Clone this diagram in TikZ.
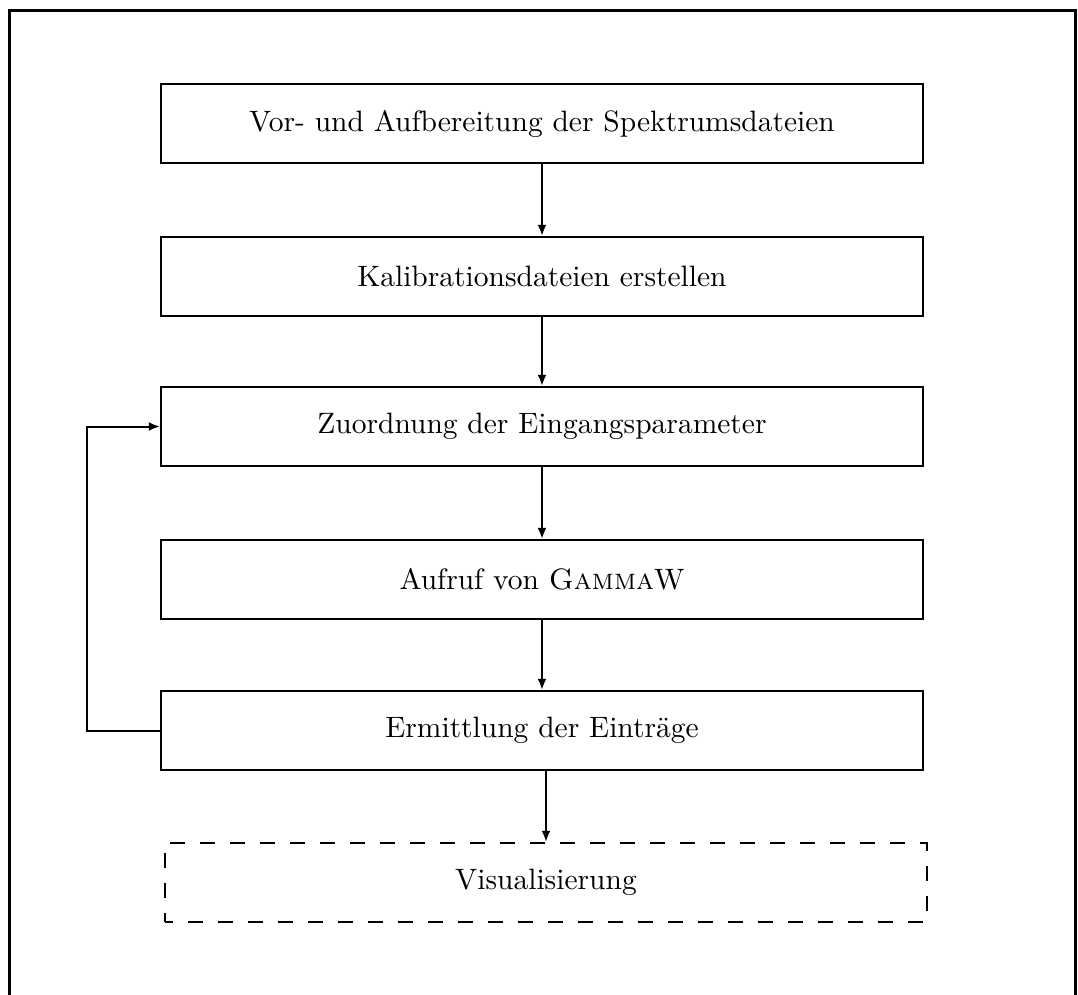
\documentclass[tikz,border=0pt]{standalone}
\usepackage{fontspec}
\usetikzlibrary{arrows.meta}
% ten-point design of Latin Modern, enlarged
\newfontfamily\tenrm{lmroman10-regular.otf}[SmallCapsFont=lmromancaps10-regular.otf]
\begin{document}
\begin{tikzpicture}[x=1pt,y=-1pt,
  stepbox/.style={draw, line width=2.4pt, minimum width=762pt, minimum height=79pt,
    inner sep=0pt, font=\tenrm\fontsize{29.5}{35}\selectfont},
  optbox/.style={stepbox, dash pattern=on 15pt off 15pt, dash phase=7pt},
  flow/.style={line width=2pt, -{Latex[length=11pt,width=9pt]}}]
  \useasboundingbox (0,0) rectangle (1078,994);
  % outer frame, open at the bottom edge of the page
  \begin{scope}
    \clip (0,0) rectangle (1078,994);
    \draw[line width=3pt] (9,10) rectangle (1075,1010);
  \end{scope}
  \node[stepbox] (a) at (542,123.5) {Vor- und Aufbereitung der Spektrumsdateien};
  \node[stepbox] (b) at (542,276.5) {Kalibrationsdateien erstellen};
  \node[stepbox] (c) at (542,426.5) {Zuordnung der Eingangsparameter};
  \node[stepbox] (d) at (542,579.5) {Aufruf von \textsc{Gamma}W};
  \node[stepbox] (e) at (542,730.5) {Ermittlung der Einträge};
  \node[optbox]  (f) at (546,882.5) {Visualisierung};
  \draw[flow] (a) -- (b);
  \draw[flow] (b) -- (c);
  \draw[flow] (c) -- (d);
  \draw[flow] (d) -- (e);
  \draw[flow] (e.south -| f.north) -- (f);
  % feedback loop back to the parameter assignment
  \coordinate (loopx) at (87,0);
  \draw[flow] (e.west) -- (e.west -| loopx) -- (c.west -| loopx) -- (c.west);
\end{tikzpicture}
\end{document}
